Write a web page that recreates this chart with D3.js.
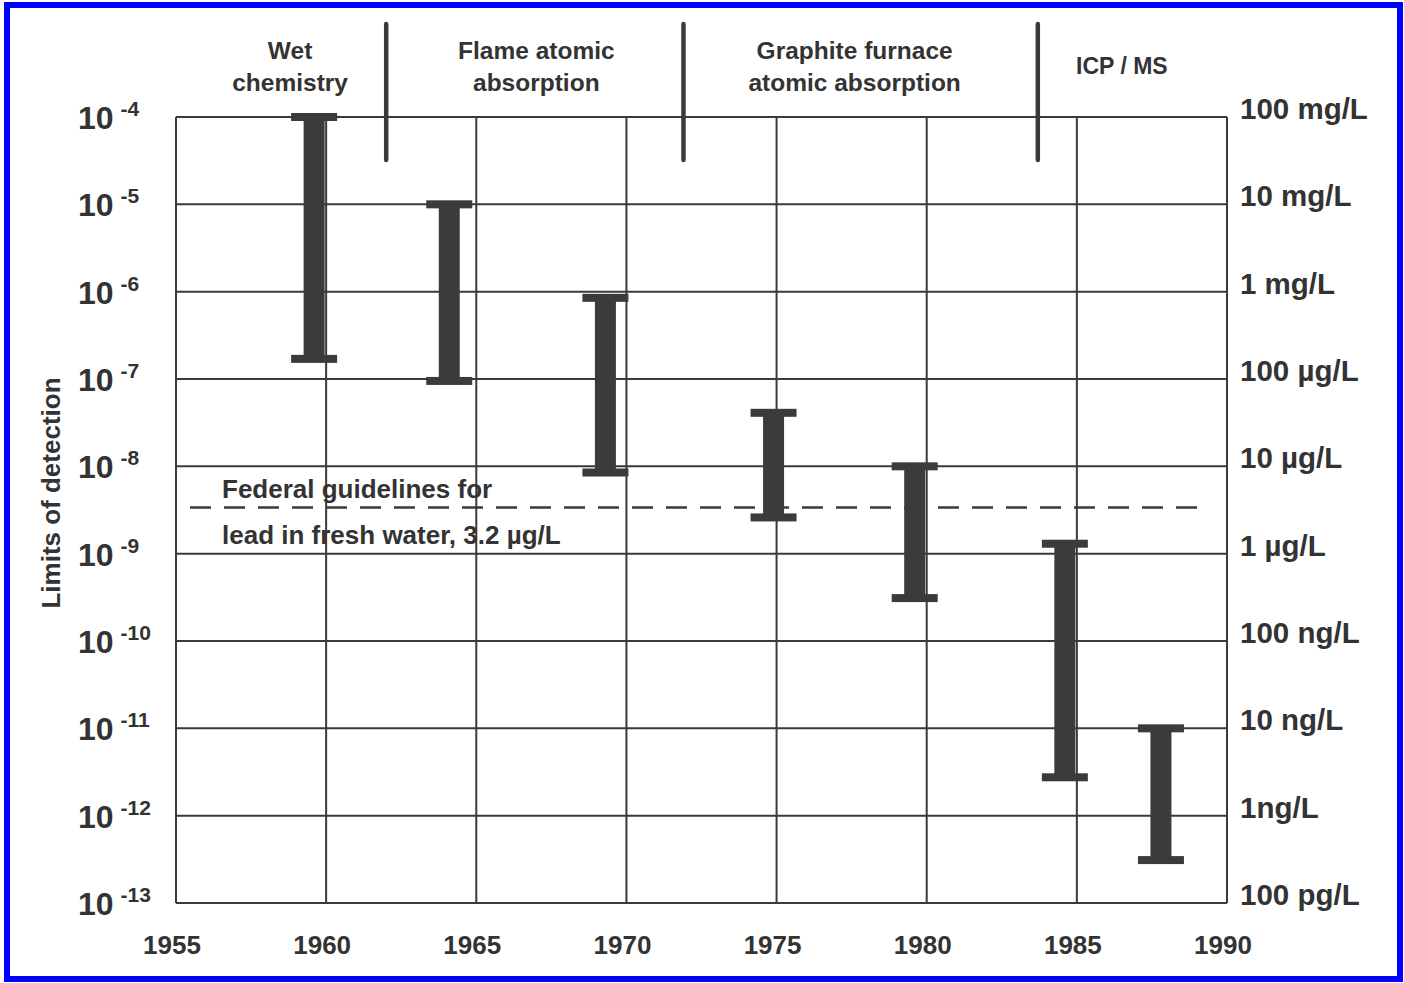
<!DOCTYPE html>
<html><head><meta charset="utf-8">
<script src="https://cdn.jsdelivr.net/npm/d3@7"></script>
<style>
html,body{margin:0;padding:0;background:#fff;}
svg{display:block;}
text{font-family:"Liberation Sans",Arial,Helvetica,sans-serif;font-weight:bold;fill:#333;}
</style></head>
<body>
<svg id="chart" width="1404" height="983"></svg>
<script>
// ---- data ----
const years  = [1959.6, 1964.1, 1969.3, 1974.9, 1979.6, 1984.6, 1987.8];
const upper  = [1e-4, 1e-5, 8.5e-7, 4.1e-8, 1e-8, 1.3e-9, 1e-11];
const lower  = [1.7e-7, 9.5e-8, 8.5e-9, 2.6e-9, 3.1e-10, 2.75e-12, 3.1e-13];
const xTicks = [1955, 1960, 1965, 1970, 1975, 1980, 1985, 1990];
const yExps  = [-4, -5, -6, -7, -8, -9, -10, -11, -12, -13];
const rightLabels = ["100 mg/L", "10 mg/L", "1 mg/L", "100 \u00b5g/L", "10 \u00b5g/L",
                     "1 \u00b5g/L", "100 ng/L", "10 ng/L", "1ng/L", "100 pg/L"];
const eraBounds = [1962, 1971.9, 1983.7];
const eraNames  = [["Wet", "chemistry"], ["Flame atomic", "absorption"],
                   ["Graphite furnace", "atomic absorption"], ["ICP / MS"]];
const eraCenters = [1958.8, 1967.0, 1977.6, 1986.5];
const guideline = 3.2e-9;
const guideText = ["Federal guidelines for", "lead in fresh water, 3.2 \u00b5g/L"];

// ---- layout ----
const L = 176, R = 1227, T = 117, B = 903;
const svg = d3.select("#chart");
const ink = "#3a3a3a";

const x = d3.scaleLinear().domain([1955, 1990]).range([L, R]);
const y = d3.scaleLog().domain([1e-13, 1e-4]).range([B, T]);

// blue frame
svg.append("rect").attr("x", 7).attr("y", 5).attr("width", 1393).attr("height", 974)
  .attr("fill", "none").attr("stroke", "#0000ff").attr("stroke-width", 6);

// grid
const g = svg.append("g");
g.selectAll("line.h").data(yExps).join("line")
  .attr("x1", L).attr("x2", R)
  .attr("y1", d => y(Math.pow(10, d))).attr("y2", d => y(Math.pow(10, d)))
  .attr("stroke", ink).attr("stroke-width", 2);
g.selectAll("line.v").data(xTicks).join("line")
  .attr("y1", T).attr("y2", B)
  .attr("x1", d => x(d)).attr("x2", d => x(d))
  .attr("stroke", ink).attr("stroke-width", 2);

// era separators
svg.selectAll("line.era").data(eraBounds).join("line")
  .attr("x1", d => x(d)).attr("x2", d => x(d))
  .attr("y1", 24).attr("y2", 160)
  .attr("stroke", ink).attr("stroke-width", 4.5).attr("stroke-linecap", "round");

// era names
eraNames.forEach((lines, i) => {
  const t = svg.append("text").attr("text-anchor", "middle")
    .attr("font-size", lines.length === 1 ? 23 : 24.5);
  const y0 = lines.length === 1 ? 74 : 59;
  lines.forEach((s, j) => {
    t.append("tspan").attr("x", x(eraCenters[i])).attr("y", y0 + j * 32).text(s);
  });
});

// guideline
svg.append("line")
  .attr("x1", 190).attr("x2", 1208)
  .attr("y1", y(guideline) - 2).attr("y2", y(guideline) - 2)
  .attr("stroke", ink).attr("stroke-width", 2.5).attr("stroke-dasharray", "21,13");
svg.append("text").attr("x", 222).attr("y", y(guideline) - 12).attr("font-size", 26).text(guideText[0]);
svg.append("text").attr("x", 222).attr("y", y(guideline) + 34).attr("font-size", 26).text(guideText[1]);

// I-beams
const barCol = "#3b3b3b";
const idx = d3.range(years.length);
const beams = svg.append("g");
beams.selectAll("rect.stem").data(idx).join("rect")
  .attr("x", i => x(years[i]) - 10.5).attr("width", 21)
  .attr("y", i => y(upper[i])).attr("height", i => y(lower[i]) - y(upper[i]))
  .attr("fill", barCol);
beams.selectAll("rect.capT").data(idx).join("rect")
  .attr("x", i => x(years[i]) - 23).attr("width", 46)
  .attr("y", i => y(upper[i]) - 4).attr("height", 8)
  .attr("fill", barCol);
beams.selectAll("rect.capB").data(idx).join("rect")
  .attr("x", i => x(years[i]) - 23).attr("width", 46)
  .attr("y", i => y(lower[i]) - 4).attr("height", 8)
  .attr("fill", barCol);

// left tick labels 10^n
yExps.forEach(e => {
  const t = svg.append("text").attr("x", 78).attr("y", y(Math.pow(10, e)) + 12).attr("font-size", 32);
  t.append("tspan").text("10");
  t.append("tspan").attr("dx", 7).attr("dy", -13).attr("font-size", 21).text(String(e));
});

// right unit labels
svg.selectAll("text.rl").data(yExps).join("text")
  .attr("x", 1240).attr("y", (d) => y(Math.pow(10, d)) + 2)
  .attr("font-size", 29.5)
  .text((d, i) => rightLabels[i]);

// x labels
svg.selectAll("text.xl").data(xTicks).join("text")
  .attr("x", d => x(d) - 4).attr("y", 954).attr("text-anchor", "middle")
  .attr("font-size", 26).text(d => d);

// y title
svg.append("text").attr("transform", "translate(60,493) rotate(-90)")
  .attr("text-anchor", "middle").attr("font-size", 26).text("Limits of detection");
</script>
</body></html>
